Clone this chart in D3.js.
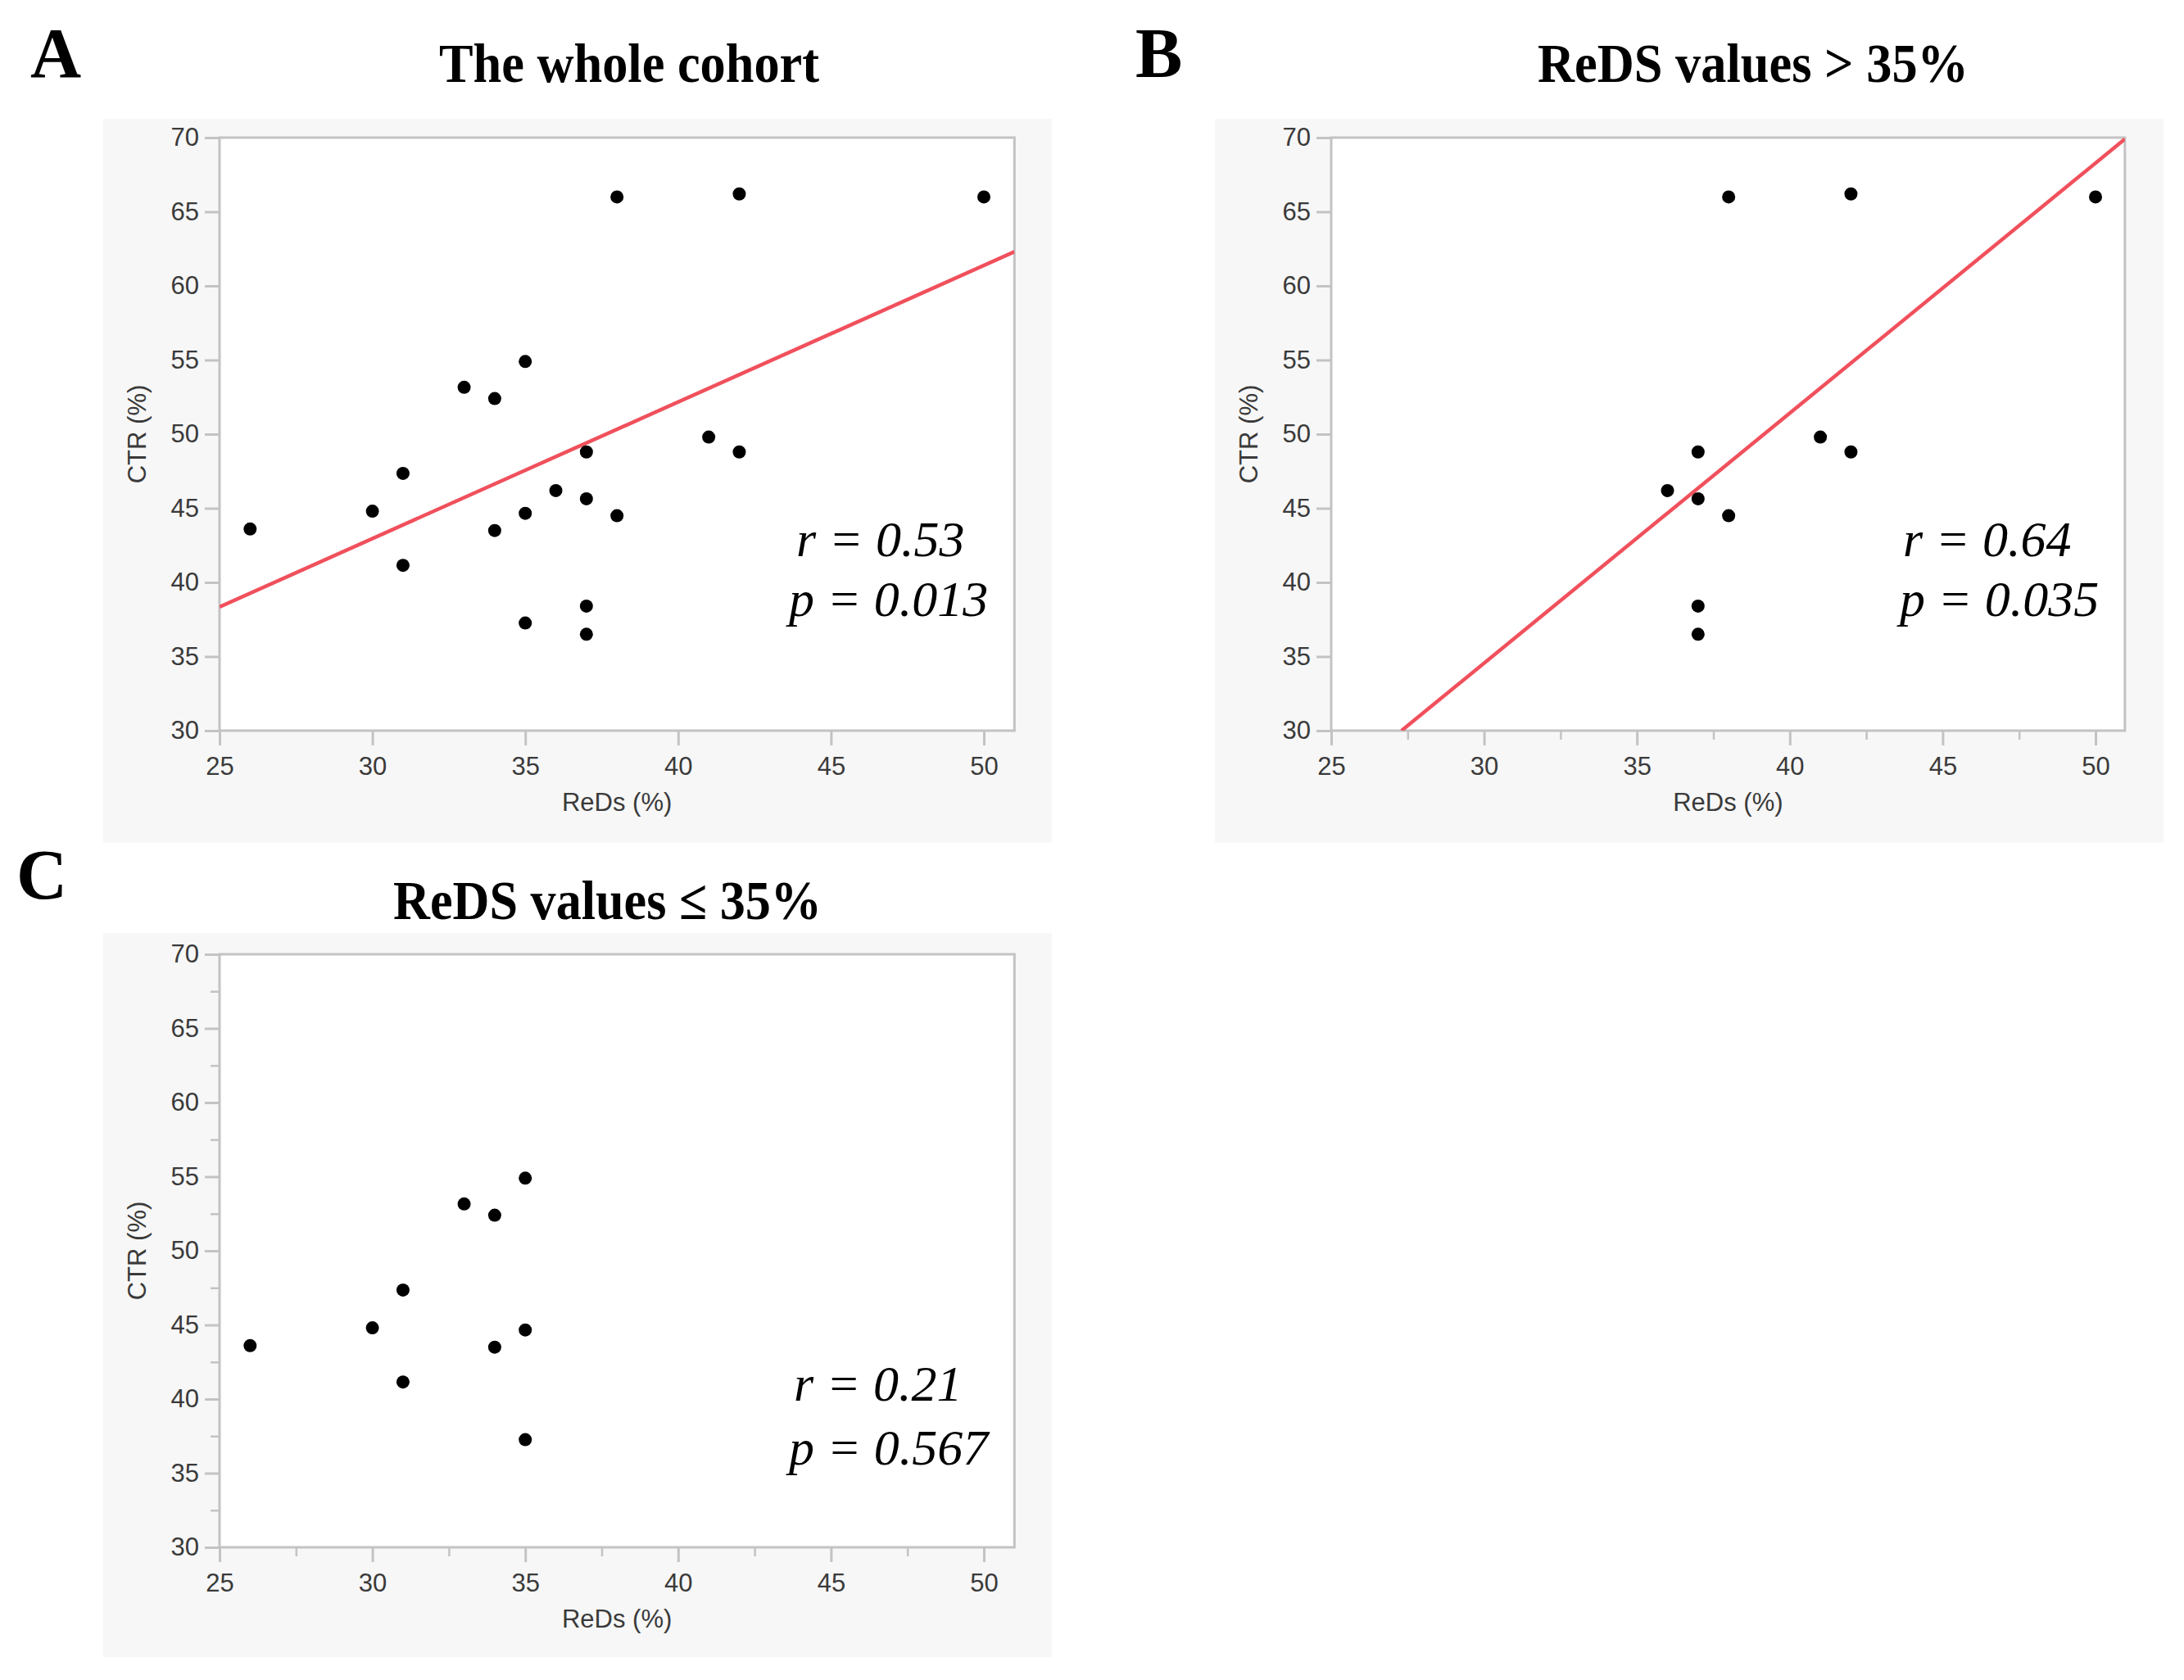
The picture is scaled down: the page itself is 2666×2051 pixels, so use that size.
<!DOCTYPE html>
<html>
<head>
<meta charset="utf-8">
<script src="https://cdn.jsdelivr.net/npm/d3@7"></script>
<style>
  html, body { margin: 0; padding: 0; background: #ffffff; }
  svg { display: block; }
</style>
</head>
<body>
<svg id="chart" width="2666" height="2051"></svg>
<script>
// ---------------- DATA ----------------
const reds = [26, 30, 31, 31, 33, 34, 34, 35, 35, 35, 36, 37, 37, 37, 37, 38, 38, 41, 42, 42, 50];
const ctr  = [43.6, 44.8, 47.35, 41.15, 53.16, 52.4, 43.5, 54.9, 44.66, 37.26, 46.19, 48.8, 45.64, 38.4, 36.5, 44.5, 66.0, 49.8, 48.8, 66.2, 66.0];
const xTicks = [25, 30, 35, 40, 45, 50];
const yTicks = [30, 35, 40, 45, 50, 55, 60, 65, 70];
const xMinorTicks = [27.5, 32.5, 37.5, 42.5, 47.5];
const yMinorTicks = [32.5, 37.5, 42.5, 47.5, 52.5, 57.5, 62.5, 67.5];
const panelLetters = ["A", "B", "C"];
const panelTitles = ["The whole cohort", "ReDS values > 35%", "ReDS values \u2264 35%"];
const rLabels = ["r = 0.53", "r = 0.64", "r = 0.21"];
const pLabels = ["p = 0.013", "p = 0.035", "p = 0.567"];
const fitA = [[25, 38.35], [51, 62.3]];
const fitB = [[27.3, 30], [50.96, 69.9]];
const xLabel = "ReDs (%)";
const yLabel = "CTR (%)";

const allPts = reds.map((x, i) => ({x: x, y: ctr[i]}));
const panelData = [
  allPts,
  allPts.filter(d => d.x > 35),
  allPts.filter(d => d.x <= 35)
];
const panelFits = [fitA, fitB, null];

// ---------------- LAYOUT ----------------
const pxPerX = 37.32;
const layout = [
  { bg: [126, 145, 1158, 884], left: 268, top: 168, xMax: 51.0, minorX: false, minorY: false,
    letter: [37, 94], title: [536, 100, 464], r: [972, 679], p: [963, 752] },
  { bg: [1483, 145, 1158, 884], left: 1625, top: 168, xMax: 50.96, minorX: true, minorY: false,
    letter: [1386, 94], title: [1877, 100, 526], r: [2323, 679], p: [2319, 752] },
  { bg: [126, 1139, 1158, 884], left: 268, top: 1165, xMax: 51.0, minorX: true, minorY: true,
    letter: [20, 1097], title: [480, 1122, 523], r: [969, 1710], p: [963, 1788] }
];
const plotH = 724;

const svg = d3.select("#chart");
svg.append("rect").attr("width", 2666).attr("height", 2051).attr("fill", "#ffffff");

const axisColor = "#c3c3c3";
const textColor = "#3a3a3a";

layout.forEach((L, i) => {
  const g = svg.append("g");
  g.append("rect")
    .attr("x", L.bg[0]).attr("y", L.bg[1]).attr("width", L.bg[2]).attr("height", L.bg[3])
    .attr("fill", "#f7f7f7");

  const x = d3.scaleLinear().domain([25, L.xMax]).range([L.left, L.left + (L.xMax - 25) * pxPerX]);
  const y = d3.scaleLinear().domain([30, 70]).range([L.top + plotH, L.top]);
  const [x0, x1] = x.range();
  const [yb, yt] = y.range();

  g.append("rect")
    .attr("x", x0).attr("y", yt).attr("width", x1 - x0).attr("height", yb - yt)
    .attr("fill", "#ffffff");

  // minor ticks
  if (L.minorX) {
    g.append("g").attr("transform", `translate(0,${yb})`)
      .call(d3.axisBottom(x).tickValues(xMinorTicks).tickSize(11).tickFormat(""))
      .call(s => s.select(".domain").remove())
      .call(s => s.selectAll("line").attr("stroke", axisColor).attr("stroke-width", 2.5));
  }
  if (L.minorY) {
    g.append("g").attr("transform", `translate(${x0},0)`)
      .call(d3.axisLeft(y).tickValues(yMinorTicks).tickSize(11).tickFormat(""))
      .call(s => s.select(".domain").remove())
      .call(s => s.selectAll("line").attr("stroke", axisColor).attr("stroke-width", 2.5));
  }

  // major axes
  const xa = g.append("g").attr("transform", `translate(0,${yb})`)
    .call(d3.axisBottom(x).tickValues(xTicks).tickSize(18).tickPadding(14).tickFormat(d3.format("d")));
  const ya = g.append("g").attr("transform", `translate(${x0},0)`)
    .call(d3.axisLeft(y).tickValues(yTicks).tickSize(18).tickPadding(7).tickFormat(d3.format("d")));
  [xa, ya].forEach(a => {
    a.select(".domain").remove();
    a.selectAll("line").attr("stroke", axisColor).attr("stroke-width", 3);
    a.selectAll("text").attr("fill", textColor)
      .style("font-family", "'Liberation Sans', Arial, sans-serif").style("font-size", "31px");
  });

  // frame
  g.append("rect")
    .attr("x", x0).attr("y", yt).attr("width", x1 - x0).attr("height", yb - yt)
    .attr("fill", "none").attr("stroke", axisColor).attr("stroke-width", 3);

  // axis labels
  g.append("text")
    .attr("x", (x0 + x1) / 2).attr("y", yb + 98)
    .attr("text-anchor", "middle").attr("fill", textColor)
    .style("font-family", "'Liberation Sans', Arial, sans-serif").style("font-size", "31px")
    .text(xLabel);
  g.append("text")
    .attr("transform", `translate(${x0 - 90},${(yt + yb) / 2}) rotate(-90)`)
    .attr("text-anchor", "middle").attr("fill", textColor)
    .style("font-family", "'Liberation Sans', Arial, sans-serif").style("font-size", "31px")
    .text(yLabel);

  // clip
  const clipId = "clip" + i;
  g.append("clipPath").attr("id", clipId).append("rect")
    .attr("x", x0).attr("y", yt).attr("width", x1 - x0).attr("height", yb - yt);

  // fit line
  const fit = panelFits[i];
  if (fit) {
    g.append("path")
      .attr("clip-path", `url(#${clipId})`)
      .attr("d", d3.line().x(d => x(d[0])).y(d => y(d[1]))(fit))
      .attr("fill", "none").attr("stroke", "#f0505c").attr("stroke-width", 4.5);
  }

  // points
  g.append("g").selectAll("circle").data(panelData[i]).join("circle")
    .attr("cx", d => x(d.x)).attr("cy", d => y(d.y)).attr("r", 8)
    .attr("fill", "#000000");

  // annotations
  g.append("text").attr("x", L.r[0]).attr("y", L.r[1])
    .style("font-family", "'Liberation Serif', 'Times New Roman', serif")
    .style("font-style", "italic").style("font-size", "62px").attr("fill", "#000")
    .text(rLabels[i]);
  g.append("text").attr("x", L.p[0]).attr("y", L.p[1])
    .style("font-family", "'Liberation Serif', 'Times New Roman', serif")
    .style("font-style", "italic").style("font-size", "62px").attr("fill", "#000")
    .text(pLabels[i]);

  // panel letter
  g.append("text").attr("x", L.letter[0]).attr("y", L.letter[1])
    .style("font-family", "'Liberation Serif', 'Times New Roman', serif")
    .style("font-weight", "bold").style("font-size", "86px").attr("fill", "#000")
    .text(panelLetters[i]);

  // title
  g.append("text").attr("x", L.title[0]).attr("y", L.title[1])
    .attr("textLength", L.title[2]).attr("lengthAdjust", "spacingAndGlyphs")
    .style("font-family", "'Liberation Serif', 'Times New Roman', serif")
    .style("font-weight", "bold").style("font-size", "68px").attr("fill", "#000")
    .text(panelTitles[i]);
});
</script>
</body>
</html>
